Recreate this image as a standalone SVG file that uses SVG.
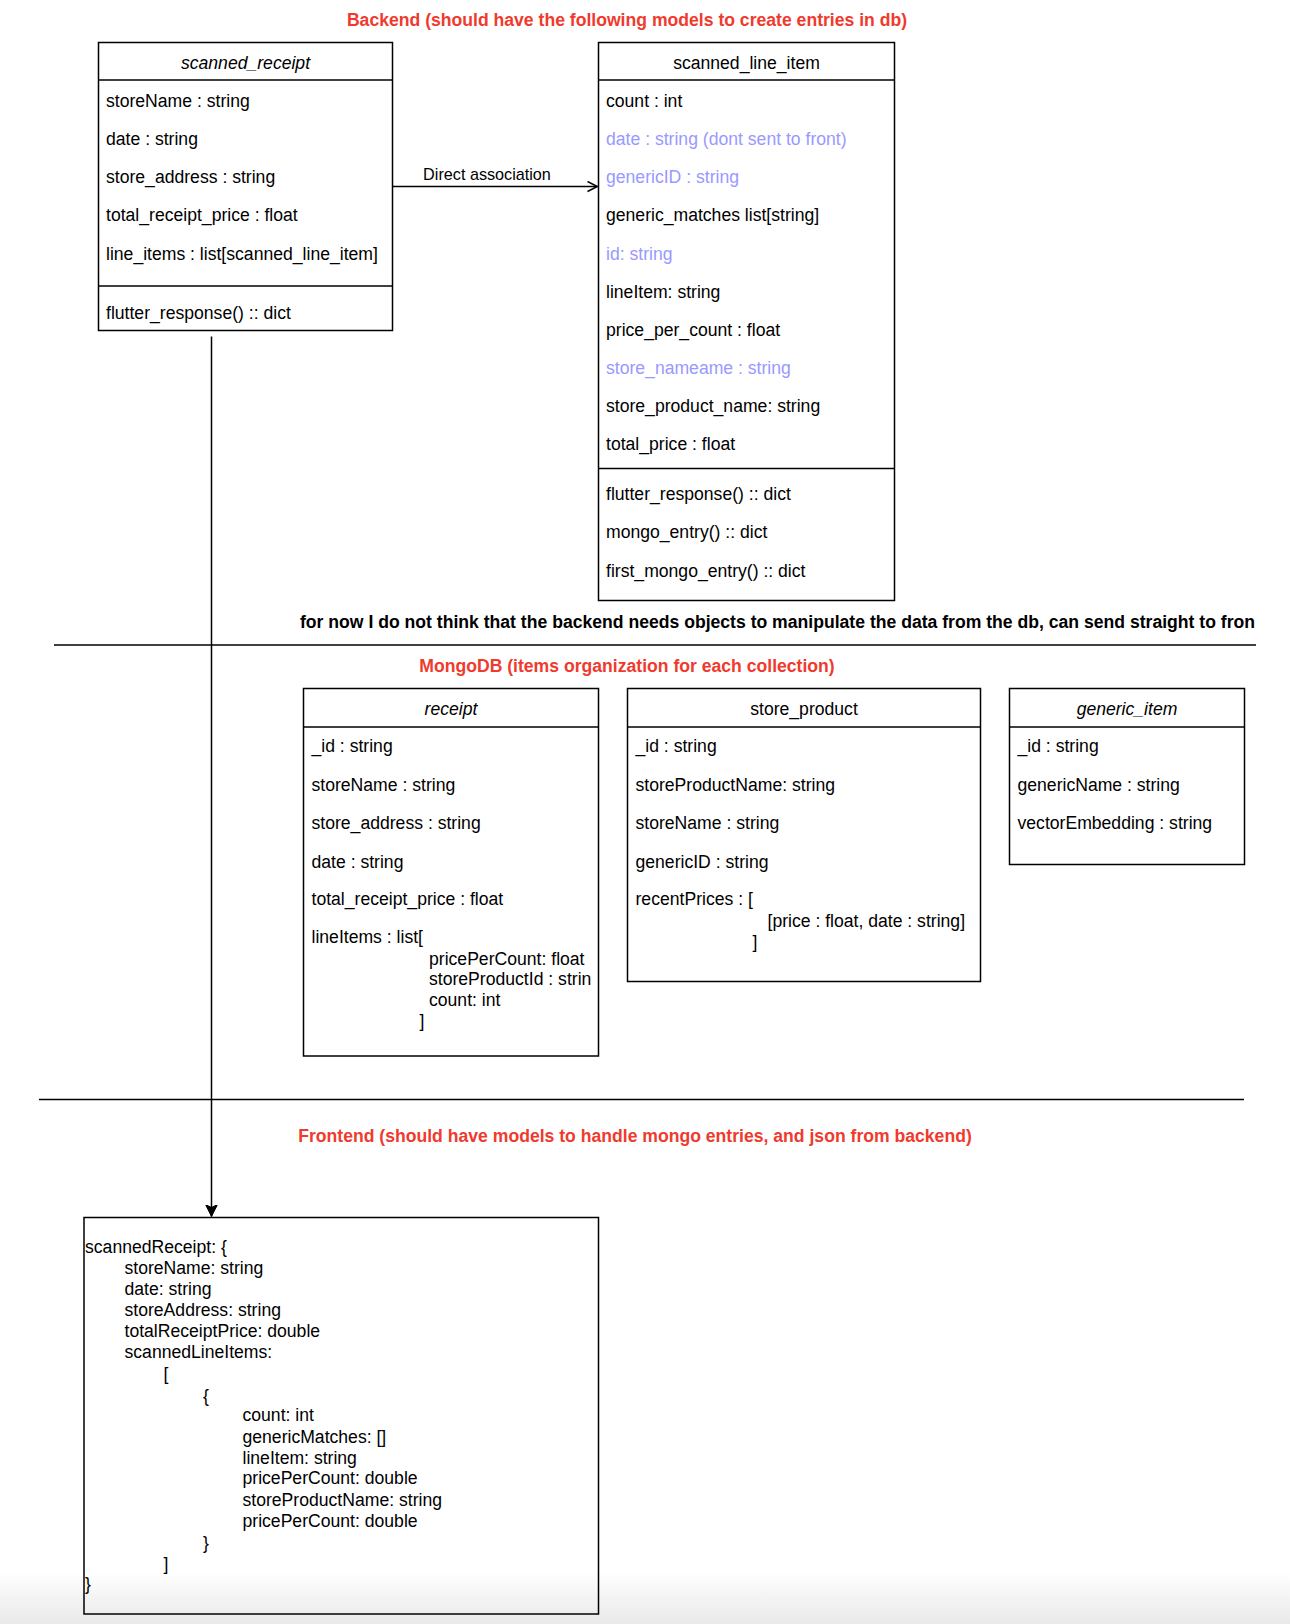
<svg xmlns="http://www.w3.org/2000/svg" width="1290" height="1624" viewBox="0 0 1290 1624">
<defs>
<style>
text{font-family:"Liberation Sans",Arial,Helvetica,sans-serif;font-size:17.6px;fill:#000}
.t{font-weight:bold;fill:#F03A2E;text-anchor:middle}
.b{font-weight:bold}
.c{text-anchor:middle}
.i{font-style:italic}
.p{fill:#9999FF}
.box{fill:#fff;stroke:#000;stroke-width:1.5}
.ln{stroke:#000;stroke-width:1.5;fill:none}
.lbl{font-size:16.2px}
</style>
<linearGradient id="shade" x1="0" y1="0" x2="0" y2="1">
<stop offset="0" stop-color="#ffffff"/>
<stop offset="1" stop-color="#e9e9e9"/>
</linearGradient>
<marker id="open" viewBox="0 0 12 12" refX="11" refY="6" markerWidth="12" markerHeight="12" markerUnits="userSpaceOnUse" orient="auto">
<path d="M1,1 L11,6 L1,11" fill="none" stroke="#000" stroke-width="1.5"/>
</marker>
<marker id="block" viewBox="0 0 12 14" refX="12" refY="7" markerWidth="12" markerHeight="14" markerUnits="userSpaceOnUse" orient="auto">
<path d="M0,1 L12,7 L0,13 L3,7 Z" fill="#000" stroke="#000" stroke-width="1"/>
</marker>
</defs>
<rect x="0" y="0" width="1290" height="1624" fill="#fff"/>
<rect x="0" y="1572" width="1290" height="52" fill="url(#shade)"/>

<g id="titles">
<text class="t" x="627" y="26">Backend (should have the following models to create entries in db)</text>
<text class="b" x="300" y="628">for now I do not think that the backend needs objects to manipulate the data from the db, can send straight to fron</text>
<text class="t" x="627" y="672">MongoDB (items organization for each collection)</text>
<text class="t" x="635" y="1142">Frontend (should have models to handle mongo entries, and json from backend)</text>
</g>

<g id="separators">
<line class="ln" x1="54" y1="645" x2="1256" y2="645"/>
<line class="ln" x1="39" y1="1099.5" x2="1244" y2="1099.5"/>
</g>

<g id="scanned_receipt">
<rect class="box" x="98.5" y="42.5" width="294" height="288"/>
<line class="ln" x1="98.5" y1="80" x2="392.5" y2="80"/>
<line class="ln" x1="98.5" y1="286" x2="392.5" y2="286"/>
<text class="c i" x="245.5" y="68.5">scanned_receipt</text>
<text x="106" y="106.5">storeName : string</text>
<text x="106" y="144.5">date : string</text>
<text x="106" y="183">store_address : string</text>
<text x="106" y="221">total_receipt_price : float</text>
<text x="106" y="259.5">line_items : list[scanned_line_item]</text>
<text x="106" y="318.5">flutter_response() :: dict</text>
</g>

<g id="scanned_line_item">
<rect class="box" x="598.5" y="42.5" width="296" height="558"/>
<line class="ln" x1="598.5" y1="80" x2="894.5" y2="80"/>
<line class="ln" x1="598.5" y1="468.5" x2="894.5" y2="468.5"/>
<text class="c" x="746.5" y="68.5">scanned_line_item</text>
<text x="606" y="106.5">count : int</text>
<text class="p" x="606" y="144.5">date : string (dont sent to front)</text>
<text class="p" x="606" y="183">genericID : string</text>
<text x="606" y="221">generic_matches list[string]</text>
<text class="p" x="606" y="259.5">id: string</text>
<text x="606" y="298">lineItem: string</text>
<text x="606" y="335.5">price_per_count : float</text>
<text class="p" x="606" y="373.5">store_nameame : string</text>
<text x="606" y="412">store_product_name: string</text>
<text x="606" y="450">total_price : float</text>
<text x="606" y="500">flutter_response() :: dict</text>
<text x="606" y="538">mongo_entry() :: dict</text>
<text x="606" y="576.5">first_mongo_entry() :: dict</text>
</g>

<g id="receipt">
<rect class="box" x="303.5" y="688.5" width="295" height="367.5"/>
<line class="ln" x1="303.5" y1="727" x2="598.5" y2="727"/>
<text class="c i" x="451" y="714.5">receipt</text>
<text x="311.5" y="751.5">_id : string</text>
<text x="311.5" y="791">storeName : string</text>
<text x="311.5" y="829">store_address : string</text>
<text x="311.5" y="867.5">date : string</text>
<text x="311.5" y="904.5">total_receipt_price : float</text>
<text x="311.5" y="943">lineItems : list[</text>
<text x="429" y="964.5">pricePerCount: float</text>
<text x="429" y="985">storeProductId : strin</text>
<text x="429" y="1005.5">count: int</text>
<text x="419.5" y="1027">]</text>
</g>

<g id="store_product">
<rect class="box" x="627.5" y="688.5" width="353" height="293"/>
<line class="ln" x1="627.5" y1="727" x2="980.5" y2="727"/>
<text class="c" x="804" y="714.5">store_product</text>
<text x="635.5" y="751.5">_id : string</text>
<text x="635.5" y="791">storeProductName: string</text>
<text x="635.5" y="829">storeName : string</text>
<text x="635.5" y="867.5">genericID : string</text>
<text x="635.5" y="904.5">recentPrices : [</text>
<text x="767.5" y="926.5">[price : float, date : string]</text>
<text x="752.5" y="948">]</text>
</g>

<g id="generic_item">
<rect class="box" x="1009.5" y="688.5" width="235" height="176"/>
<line class="ln" x1="1009.5" y1="727" x2="1244.5" y2="727"/>
<text class="c i" x="1127" y="714.5">generic_item</text>
<text x="1017.5" y="751.5">_id : string</text>
<text x="1017.5" y="791">genericName : string</text>
<text x="1017.5" y="829">vectorEmbedding : string</text>
</g>

<g id="frontend_scannedReceipt">
<rect x="84" y="1217.5" width="514.5" height="396.5" fill="none" stroke="#000" stroke-width="1.5"/>
<text x="85" y="1252.5">scannedReceipt: {</text>
<text x="124.5" y="1274">storeName: string</text>
<text x="124.5" y="1295">date: string</text>
<text x="124.5" y="1315.5">storeAddress: string</text>
<text x="124.5" y="1337">totalReceiptPrice: double</text>
<text x="124.5" y="1358">scannedLineItems:</text>
<text x="163.5" y="1379.5">[</text>
<text x="203" y="1401.5">{</text>
<text x="242.5" y="1421">count: int</text>
<text x="242.5" y="1443">genericMatches: []</text>
<text x="242.5" y="1463.5">lineItem: string</text>
<text x="242.5" y="1484">pricePerCount: double</text>
<text x="242.5" y="1506">storeProductName: string</text>
<text x="242.5" y="1527">pricePerCount: double</text>
<text x="203" y="1548.5">}</text>
<text x="163.5" y="1570">]</text>
<text x="85" y="1590">}</text>
</g>

<g id="connectors">
<line class="ln" x1="392.5" y1="186.5" x2="597.5" y2="186.5" marker-end="url(#open)"/>
<text class="c lbl" x="487" y="180">Direct association</text>
<line class="ln" x1="211.5" y1="336.5" x2="211.5" y2="1216.5" marker-end="url(#block)"/>
</g>
</svg>
